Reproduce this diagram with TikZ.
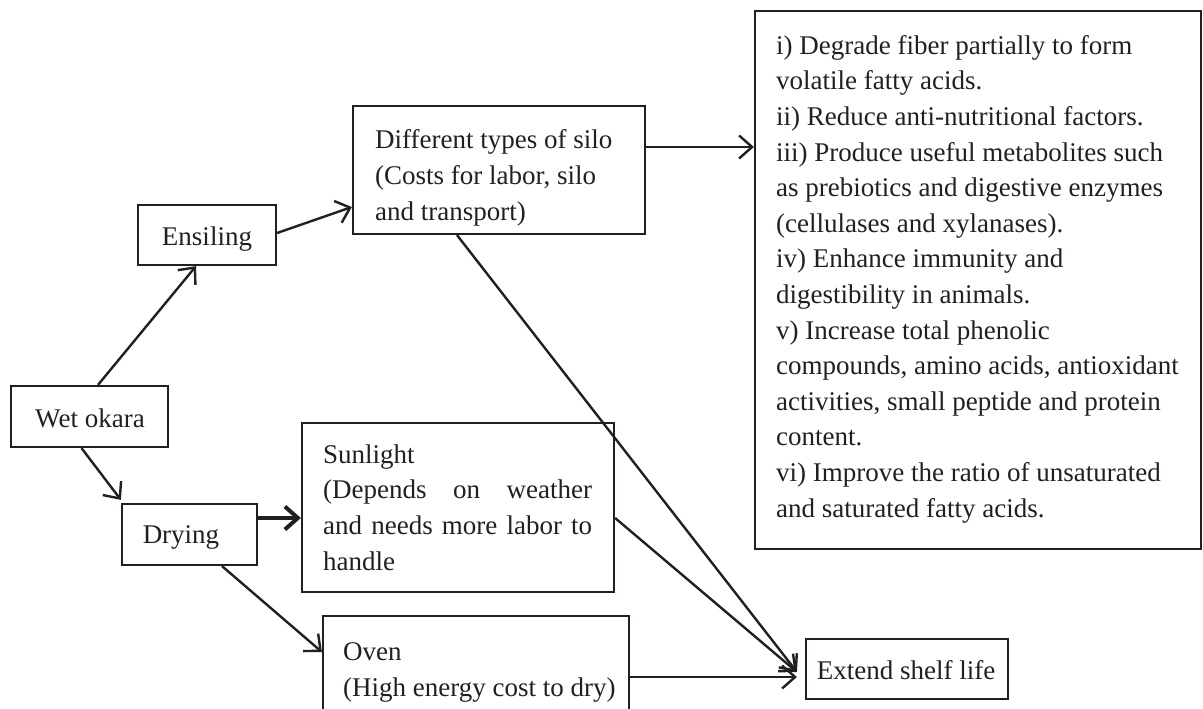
\documentclass[tikz,border=0pt]{standalone}
\usepackage{fontspec}
\setmainfont{Liberation Serif}
\usetikzlibrary{arrows.meta}
\definecolor{ink}{RGB}{35,31,32}
\tikzset{
  box/.style={draw=ink, line width=2.2pt, rectangle, inner sep=0pt},
  txt/.style={text=ink, inner sep=0pt, font=\fontsize{27}{35.6}\selectfont},
  arr/.style={draw=ink, line width=2.4pt, -{Straight Barb[length=13pt,width=23pt]}},
}
\begin{document}
\begin{tikzpicture}[x=1pt,y=-1pt]
\path[use as bounding box] (0,0) rectangle (1203,709);
\clip (0,0) rectangle (1203,709);
% boxes
\node[box, minimum width=157pt, minimum height=61pt] (wet) at (89.5,416.5) {};
\node[box, minimum width=138pt, minimum height=60pt] (ens) at (207,235) {};
\node[box, minimum width=292pt, minimum height=128pt] (silo) at (499,170) {};
\node[box, minimum width=446pt, minimum height=538pt] (big) at (978,280) {};
\node[box, minimum width=135pt, minimum height=61pt] (dry) at (189.5,534.5) {};
\node[box, minimum width=312pt, minimum height=169pt] (sun) at (458,507.5) {};
\node[box, minimum width=306pt, minimum height=124pt] (oven) at (476,678) {};
\node[box, minimum width=202pt, minimum height=60pt] (ext) at (907,669) {};
% texts (multi-line nodes: base = baseline of last line)
\node[txt, anchor=base] (wett) at (90,427) {Wet okara};
\node[txt, anchor=base] (enst) at (207,245) {Ensiling};
\node[txt, anchor=base] (dryt) at (181,543) {Drying};
\node[txt, anchor=base west, align=left] (silot) at (375,220)
  {Different types of silo\\(Costs for labor, silo\\and transport)};
\node[txt, anchor=base west, align=left] (bigt) at (776,517)
  {i) Degrade fiber partially to form\\
   volatile fatty acids.\\
   ii) Reduce anti-nutritional factors.\\
   iii) Produce useful metabolites such\\
   as prebiotics and digestive enzymes\\
   (cellulases and xylanases).\\
   iv) Enhance immunity and\\
   digestibility in animals.\\
   v) Increase total phenolic\\
   compounds, amino acids, antioxidant\\
   activities, small peptide and protein\\
   content.\\
   vi) Improve the ratio of unsaturated\\
   and saturated fatty acids.};
\node[txt, anchor=base west, align=left] (sunt) at (323,570)
  {Sunlight\\
   \hbox to 269pt{(Depends\hfill on\hfill weather}\\
   \hbox to 269pt{and\hfill needs\hfill more\hfill labor\hfill to}\\
   handle};
\node[txt, anchor=base west, align=left] (ovent) at (343,696)
  {Oven\\(High energy cost to dry)};
\node[txt, anchor=base] (extt) at (906,679) {Extend shelf life};
% connectors
\draw[arr] ([xshift=8.5pt]wet.north) -- ([xshift=-11pt]ens.south);
\draw[arr] ([yshift=2pt]ens.east) -- ([yshift=-37pt]silo.west);
\draw[arr] ([yshift=23pt]silo.east) -- ([yshift=133pt]big.west);
\draw[arr] ([xshift=-8pt]wet.south) -- ([yshift=3pt]dry.north west);
\draw[arr, line width=4pt] ([yshift=16.5pt]dry.east) -- ([yshift=-10.5pt]sun.west);
\draw[arr] ([xshift=32.5pt]dry.south) -- ([yshift=26pt]oven.west);
\draw[arr] ([xshift=-42pt]silo.south) -- ([xshift=-8pt,yshift=-3pt]ext.west);
\draw[arr] ([yshift=-10.5pt]sun.east) -- ([xshift=-8pt,yshift=-3pt]ext.west);
\draw[arr] ([yshift=1pt]oven.east) -- ([xshift=-8pt,yshift=-8pt]ext.west);
\end{tikzpicture}
\end{document}
